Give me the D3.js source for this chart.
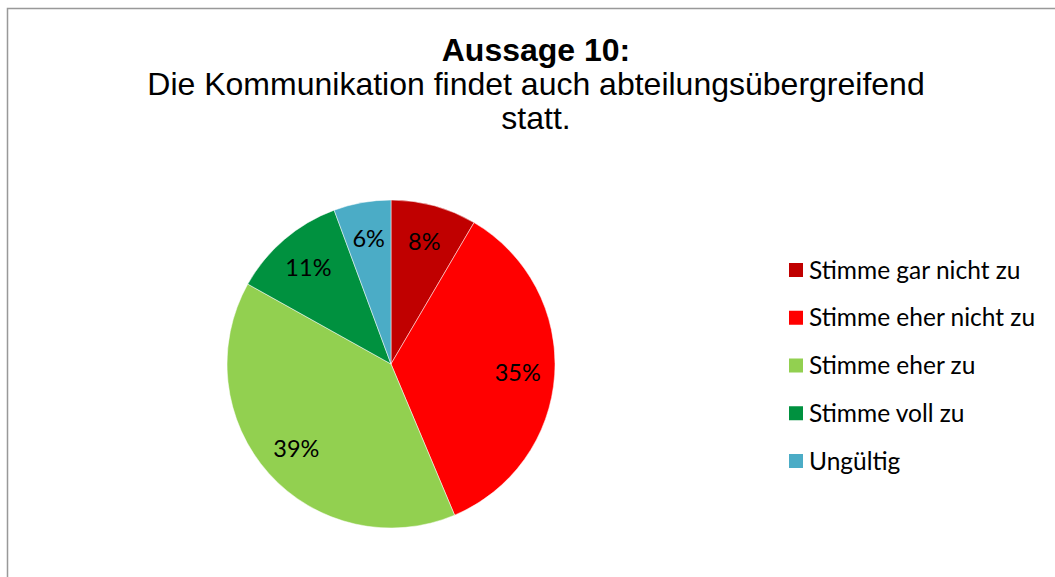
<!DOCTYPE html>
<html><head><meta charset="utf-8">
<script src="https://cdn.jsdelivr.net/npm/d3@7"></script>
<style>body{margin:0;background:#fff}svg{display:block}</style>
</head><body>
<svg id="c" width="1055" height="577"></svg>
<script>
const categories = ["Stimme gar nicht zu","Stimme eher nicht zu","Stimme eher zu","Stimme voll zu","Ungültig"];
const counts = [6, 25, 28, 8, 4];
const colors = ["#C00000","#FF0000","#92D050","#00913F","#4BACC6"];
const titleLines = ["Aussage 10:", "Die Kommunikation findet auch abteilungsübergreifend", "statt."];

const svg = d3.select("#c");
svg.append("rect").attr("x",7.5).attr("y",8.5).attr("width",1100).attr("height",600)
  .attr("fill","#fff").attr("stroke","#999").attr("stroke-width",1.5);

const tx = 536;
const tf = "Liberation Sans, Arial, sans-serif";
[61, 95, 129].forEach((y,i)=>{
  svg.append("text").attr("x",tx).attr("y",y).attr("text-anchor","middle")
    .attr("font-family",tf).attr("font-weight", i===0 ? "bold" : "normal")
    .attr("font-size",32).attr("fill","#000").text(titleLines[i]);
});

const cx = 391, cy = 364, r = 164;
const total = d3.sum(counts);
const data = categories.map((c,i)=>({cat:c, v:counts[i], color:colors[i]}));
const pie = d3.pie().value(d=>d.v).sort(null);
const arcs = pie(data);
const arc = d3.arc().innerRadius(0).outerRadius(r);
const labelArc = d3.arc().innerRadius(127).outerRadius(127);
const g = svg.append("g").attr("transform",`translate(${cx},${cy})`);
g.selectAll("path").data(arcs).join("path").attr("d",arc)
  .attr("fill",d=>d.data.color).attr("stroke","#fff").attr("stroke-width",0.5);
g.selectAll("text").data(arcs).join("text")
  .attr("transform",d=>`translate(${labelArc.centroid(d)})`)
  .attr("text-anchor","middle").attr("dy","0.35em")
  .attr("font-family","Lato, Open Sans, sans-serif").attr("font-size",23.5).attr("fill","#000")
  .text(d=>Math.round(d.data.v/total*100)+"%");

const lg = svg.append("g");
const rowY = d3.scalePoint().domain(categories).range([270, 461]);
categories.forEach((c,i)=>{
  const y = rowY(c);
  lg.append("rect").attr("x",789).attr("y",y-7).attr("width",14).attr("height",14).attr("fill",colors[i]);
  lg.append("text").attr("x",809).attr("y",y).attr("dy","0.35em")
    .attr("font-family","Lato, Open Sans, sans-serif").attr("font-size",24.5).attr("fill","#000").text(c);
});
</script>
</body></html>
